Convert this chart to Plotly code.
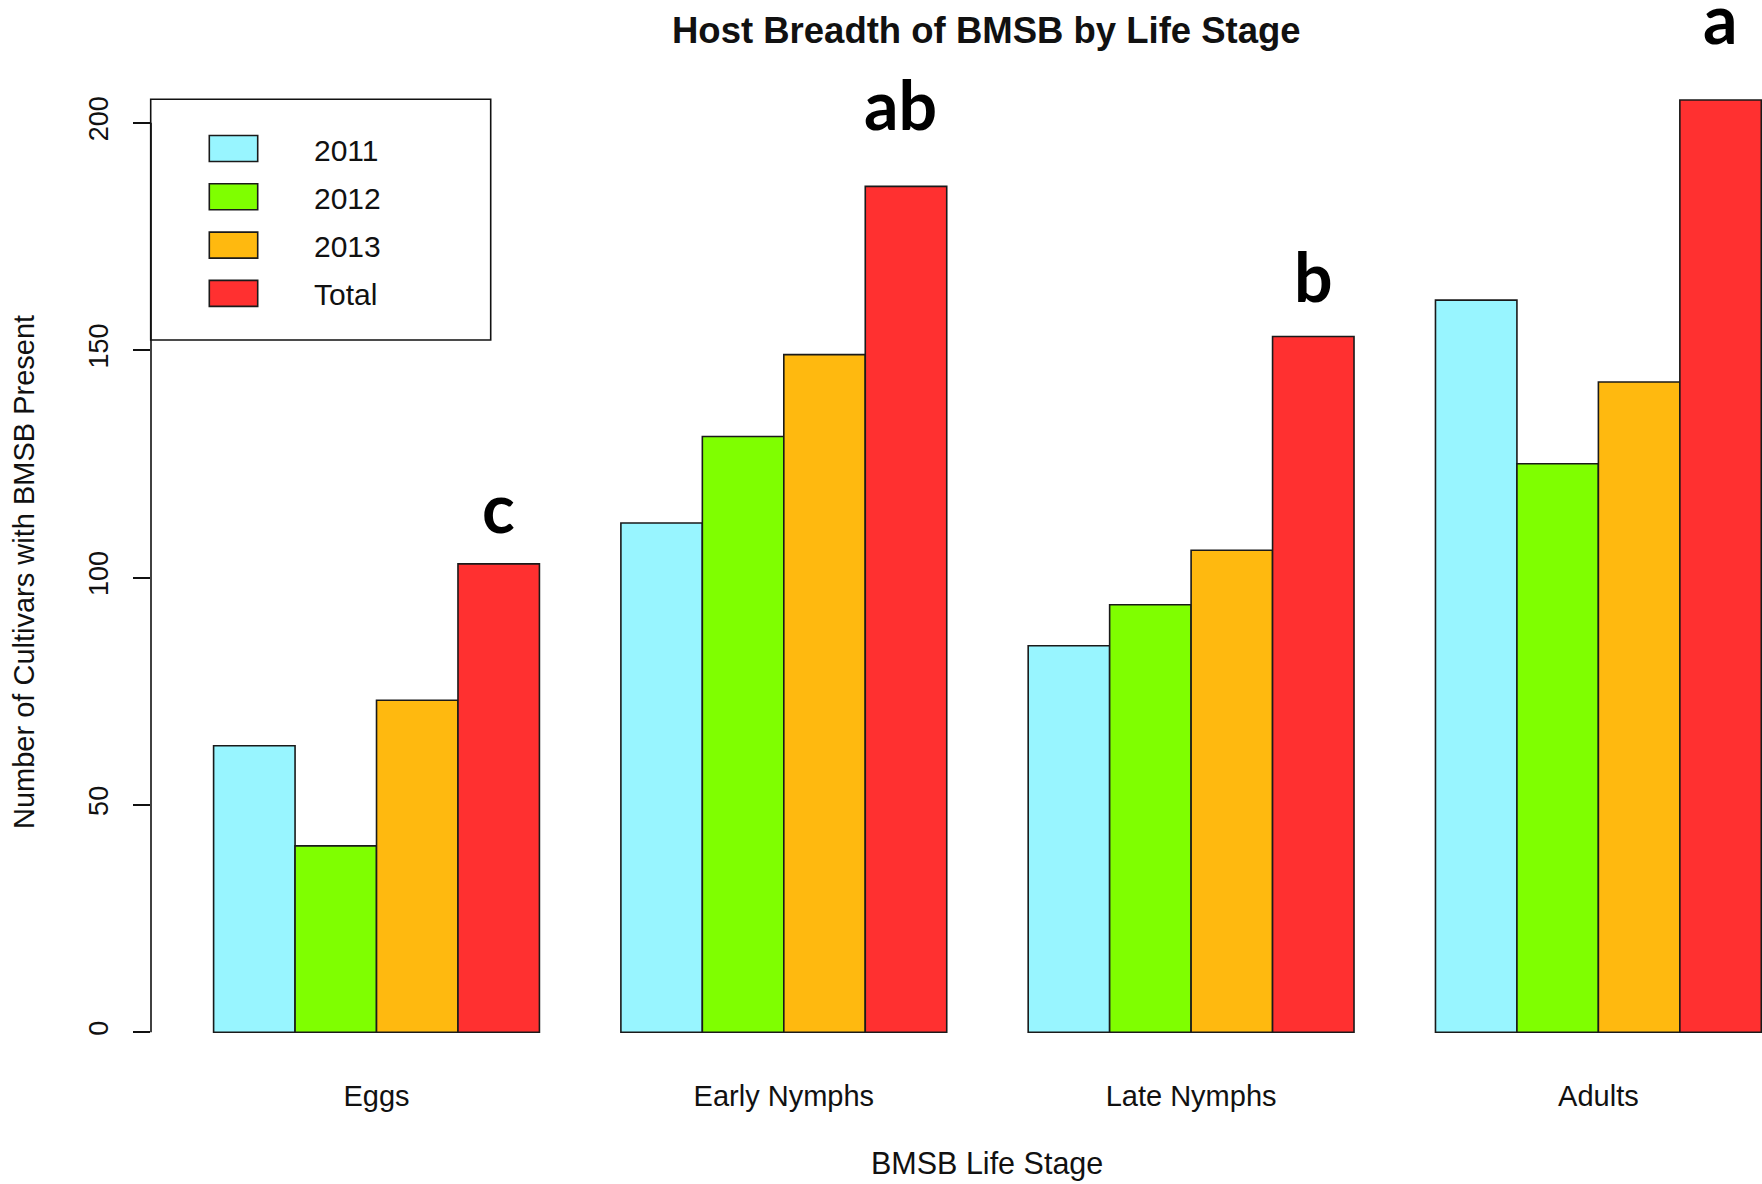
import plotly.graph_objects as go

# ---- data -------------------------------------------------------------
stages = ["Eggs", "Early Nymphs", "Late Nymphs", "Adults"]
series_names = ["2011", "2012", "2013", "Total"]
v2011 = [63, 112, 85, 161]
v2012 = [41, 131, 94, 125]
v2013 = [73, 149, 106, 143]
vtotal = [103, 186, 153, 205]
letters = ["c", "ab", "b", "a"]
y_ticks = [0, 50, 100, 150, 200]

# ---- styling / layout -------------------------------------------------
colors = ["#98F5FF", "#7FFF00", "#FFB90F", "#FF3030"]
letter_base = [109.6, 198.2, 160.4, 217.1]   # baseline height of the letter labels
letter_dx = [0, -6, 0, 0]                    # small horizontal nudges (px)
W, H = 1762, 1184
ML, MR, MT, MB = 151, 0, 63, 114
PW, PH = W - ML - MR, H - MT - MB
Y_RANGE = [-8.29, 213.13]
FONT = "Liberation Sans, Arial, sans-serif"
INK = "#111111"


def px_x(px):
    return (px - ML) / PW


def px_y(py):
    return (H - MB - py) / PH


def data_to_paper_y(v):
    return (v - Y_RANGE[0]) / (Y_RANGE[1] - Y_RANGE[0])


fig = go.Figure()
for name, vals, col in zip(series_names, [v2011, v2012, v2013, vtotal], colors):
    fig.add_trace(go.Bar(
        x=stages, y=vals, name=name,
        marker=dict(color=col, line=dict(color="#1a1a1a", width=1.6)),
        showlegend=False, cliponaxis=False,
    ))

shapes = []
annotations = []

# y axis line spanning the tick range only
shapes.append(dict(type="line", xref="paper", yref="y", x0=0, x1=0,
                   y0=y_ticks[0], y1=y_ticks[-1],
                   line=dict(color=INK, width=1.6)))

# legend box
shapes.append(dict(type="rect", xref="paper", yref="paper",
                   x0=px_x(150.7), x1=px_x(490.7), y0=px_y(340), y1=px_y(99.3),
                   line=dict(color=INK, width=1.6), fillcolor="rgba(0,0,0,0)"))
for i, (name, col) in enumerate(zip(series_names, colors)):
    cy = 148.5 + 48.3 * i
    shapes.append(dict(type="rect", xref="paper", yref="paper",
                       x0=px_x(209.3), x1=px_x(257.7),
                       y0=px_y(cy + 13), y1=px_y(cy - 13),
                       line=dict(color="#1a1a1a", width=1.6), fillcolor=col))
    annotations.append(dict(xref="paper", yref="paper", x=px_x(312), y=px_y(cy + 1.5),
                            xanchor="left", yanchor="middle", showarrow=False,
                            text=name, font=dict(family=FONT, size=30, color=INK)))

# significance letters above the Total bars
for i, (lab, yb, dx) in enumerate(zip(letters, letter_base, letter_dx)):
    annotations.append(dict(xref="x", yref="paper", x=i + 0.3, y=data_to_paper_y(yb),
                            xanchor="center", yanchor="bottom", yshift=-15, xshift=dx,
                            showarrow=False, text="<b>%s</b>" % lab,
                            font=dict(family="Lato, sans-serif", size=68, color="black")))

# title and axis titles
annotations.append(dict(xref="paper", yref="paper", x=px_x(986.6), y=px_y(30.8),
                        xanchor="center", yanchor="middle", showarrow=False,
                        text="<b>Host Breadth of BMSB by Life Stage</b>",
                        font=dict(family=FONT, size=36.5, color=INK)))
annotations.append(dict(xref="paper", yref="paper", x=px_x(986.7), y=px_y(1163.7),
                        xanchor="center", yanchor="middle", showarrow=False,
                        text="BMSB Life Stage",
                        font=dict(family=FONT, size=30.5, color=INK)))
annotations.append(dict(xref="paper", yref="paper", x=px_x(24), y=px_y(572),
                        xanchor="center", yanchor="middle", showarrow=False,
                        textangle=-90, text="Number of Cultivars with BMSB Present",
                        font=dict(family=FONT, size=29, color=INK)))

fig.update_layout(
    width=W, height=H,
    margin=dict(l=ML, r=MR, t=MT, b=MB, pad=0),
    paper_bgcolor="white", plot_bgcolor="white",
    barmode="group", bargap=0.2, bargroupgap=0,
    shapes=shapes, annotations=annotations,
    xaxis=dict(type="category", range=[-0.5537, 3.4017], showgrid=False,
               showline=False, zeroline=False, ticks="",
               tickfont=dict(family=FONT, size=29, color=INK),
               ticklabelstandoff=6),
    yaxis=dict(range=Y_RANGE, tickvals=y_ticks, showgrid=False,
               showline=False, zeroline=False, ticks="outside", ticklen=17,
               tickwidth=1.6, tickcolor=INK, tickangle=-90,
               ticklabelstandoff=14,
               tickfont=dict(family=FONT, size=27, color=INK)),
)

fig.write_html("out.html", config={"displayModeBar": False})
